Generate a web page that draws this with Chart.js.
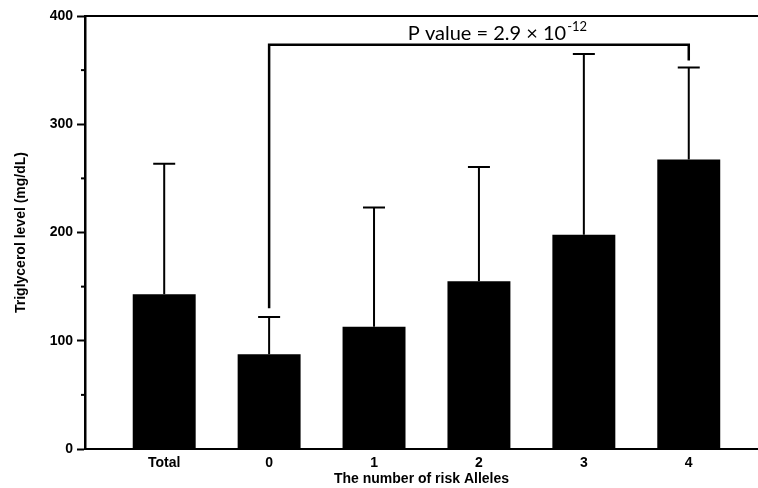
<!DOCTYPE html>
<html>
<head>
<meta charset="utf-8">
<script src="https://cdn.jsdelivr.net/npm/chart.js@4"></script>
<style>
html,body{margin:0;padding:0;background:#fff;}
#wrap{width:758px;height:488px;position:relative;}
</style>
</head>
<body>
<div id="wrap"><canvas id="c" width="758" height="488"></canvas></div>
<script>
const categories = ['Total', '0', '1', '2', '3', '4'];
const meanValues = [143, 87.5, 113, 155, 198, 267.5];
const errorUpper = [263.5, 122, 223, 260.5, 365, 352.5];
const yTicks = [0, 100, 200, 300, 400];
const yMinorTicks = [50, 150, 250, 350];
const bracketFrom = 1, bracketTo = 5;
const bracketLevel = 373.5;
const bracketLeftEnd = 130;
const bracketRightEnd = 359;
const pText = 'P value = 2.9 \u00d7 10';
const pSup = '-12';

const points = meanValues.map((v, i) => ({x: i, y: v}));
const FONT = "'Liberation Sans', Arial, Helvetica, sans-serif";

const extras = {
  id: 'extras',
  afterDatasetsDraw(chart) {
    const ctx = chart.ctx;
    const xs = chart.scales.x, ys = chart.scales.y;
    const area = chart.chartArea;
    ctx.save();
    ctx.strokeStyle = '#000';
    ctx.lineCap = 'butt';
    ctx.lineWidth = 2;
    meanValues.forEach((v, i) => {
      const x = xs.getPixelForValue(i);
      const y0 = ys.getPixelForValue(v);
      const y1 = ys.getPixelForValue(errorUpper[i]);
      ctx.beginPath();
      ctx.moveTo(x, y0); ctx.lineTo(x, y1);
      ctx.moveTo(x - 11, y1); ctx.lineTo(x + 11, y1);
      ctx.stroke();
    });
    ctx.lineWidth = 2;
    ctx.beginPath();
    ctx.moveTo(area.left, area.top); ctx.lineTo(chart.width, area.top);
    ctx.stroke();
    yMinorTicks.forEach(t => {
      const y = ys.getPixelForValue(t);
      ctx.beginPath();
      ctx.moveTo(area.left - 4, y); ctx.lineTo(area.left, y);
      ctx.stroke();
    });
    const bx1 = xs.getPixelForValue(bracketFrom);
    const bx2 = xs.getPixelForValue(bracketTo);
    const by = ys.getPixelForValue(bracketLevel);
    ctx.lineWidth = 2.5;
    ctx.beginPath();
    ctx.moveTo(bx1, ys.getPixelForValue(bracketLeftEnd));
    ctx.lineTo(bx1, by);
    ctx.lineTo(bx2, by);
    ctx.lineTo(bx2, ys.getPixelForValue(bracketRightEnd));
    ctx.stroke();
    ctx.fillStyle = '#000';
    ctx.textBaseline = 'alphabetic';
    ctx.font = '20px Lato';
    const w1 = ctx.measureText(pText).width;
    ctx.font = '13px Lato';
    const w2 = ctx.measureText(pSup).width;
    const cx = (bx1 + bx2) / 2 + 18;
    const sx = cx - (w1 + w2) / 2;
    const baseY = by - 5;
    ctx.font = '20px Lato';
    ctx.textAlign = 'left';
    ctx.fillText(pText, sx, baseY);
    ctx.font = '13px Lato';
    ctx.fillText(pSup, sx + w1 + 1, baseY - 9);
    ctx.restore();
  }
};

new Chart(document.getElementById('c'), {
  type: 'bar',
  data: {
    datasets: [{
      data: points,
      backgroundColor: '#000',
      borderWidth: 0,
      barPercentage: 0.6,
      categoryPercentage: 1.0
    }]
  },
  options: {
    responsive: false,
    animation: false,
    layout: {padding: {top: 16, right: 0, left: 0, bottom: 0}},
    plugins: {legend: {display: false}, tooltip: {enabled: false}},
    scales: {
      x: {
        type: 'linear',
        min: -0.755,
        max: 5.66,
        offset: false,
        grid: {display: false, drawTicks: false},
        border: {display: true, color: '#000', width: 2},
        ticks: {
          stepSize: 1,
          includeBounds: false,
          padding: 6,
          color: '#000',
          font: {family: FONT, size: 14, weight: 'bold'},
          callback: v => (Number.isInteger(v) && categories[v] !== undefined) ? categories[v] : ''
        },
        title: {
          display: true,
          text: 'The number of risk Alleles',
          color: '#000',
          font: {family: FONT, size: 14, weight: 'bold'},
          padding: {top: 1, bottom: 0}
        },
        afterFit(scale) { scale.height = 39; }
      },
      y: {
        min: 0,
        max: 400,
        afterBuildTicks(scale) { scale.ticks = yTicks.map(v => ({value: v})); },
        grid: {display: true, drawOnChartArea: false, drawTicks: true, tickLength: 8, tickWidth: 2, tickColor: '#000'},
        border: {display: true, color: '#000', width: 2.5},
        ticks: {
          padding: 4,
          color: '#000',
          font: {family: FONT, size: 14, weight: 'bold'}
        },
        title: {
          display: true,
          text: 'Triglycerol level (mg/dL)',
          color: '#000',
          font: {family: FONT, size: 14, weight: 'bold'},
          padding: {top: 13, bottom: 0}
        },
        afterFit(scale) { scale.width = 85; }
      }
    }
  },
  plugins: [extras]
});
</script>
</body>
</html>
